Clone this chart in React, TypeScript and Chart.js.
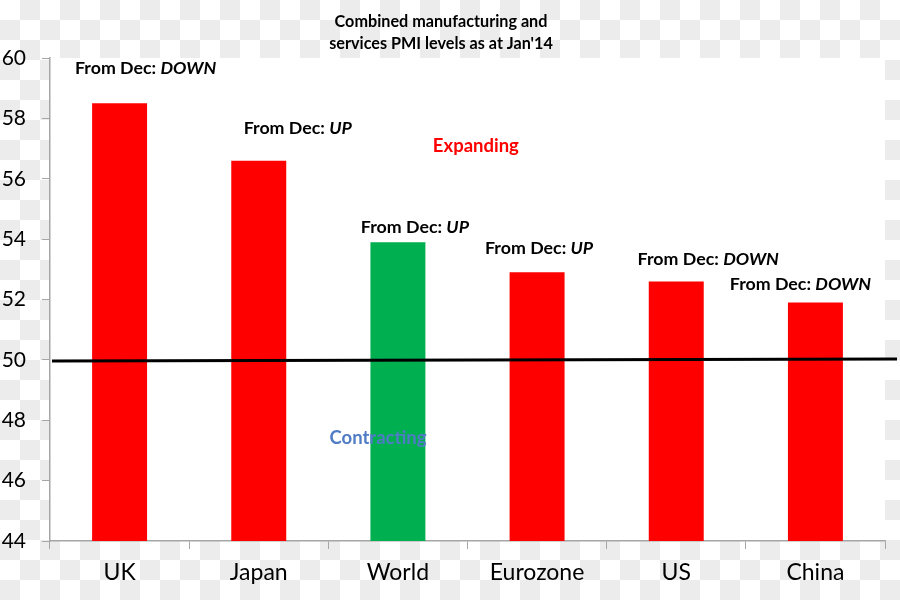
import React, { useEffect, useRef } from "react";
import { Chart, registerables } from "chart.js";

Chart.register(...registerables);

// ---- data ----
const categories = ["UK", "Japan", "World", "Eurozone", "US", "China"];
const pmiValues = [58.5, 56.6, 53.9, 52.9, 52.6, 51.9];
const barColors = ["#FF0000", "#FF0000", "#00B050", "#FF0000", "#FF0000", "#FF0000"];
const changeFromDec = ["DOWN", "UP", "UP", "UP", "DOWN", "DOWN"];
const thresholdValue = 50;
const yMin = 44;
const yMax = 60;
const yStep = 2;
const titleLines = ["Combined manufacturing and", "services PMI levels as at Jan'14"];
const zoneLabels = ["Expanding", "Contracting"];

// ---- layout of annotations (pixels relative to bar top centre) ----
const labelOffsets: [number, number][] = [
  [26, -35],
  [39, -32],
  [17, -15],
  [2, -24],
  [32, -22],
  [-15, -18],
];
// zone labels in data coordinates (category index, value)
const zonePositions: [number, number][] = [
  [2.56, 57.1],
  [1.857, 47.4],
];
const zoneColors = ["#FF0000", "#4F7CC4"];

const FONT = "Lato, 'Open Sans', sans-serif";
const GRAY = "#A6A6A6";

const backgroundPlugin = {
  id: "bgChecker",
  beforeDraw(chart: any) {
    const { ctx, width, height, chartArea } = chart;
    ctx.save();
    ctx.fillStyle = "#FFFFFF";
    ctx.fillRect(0, 0, width, height);
    ctx.fillStyle = "#ECECEC";
    const s = 20;
    for (let j = 0; j * s < height; j++) {
      for (let i = 0; i * s < width; i++) {
        if ((i + j) % 2 === 1) ctx.fillRect(i * s, j * s, s, s);
      }
    }
    ctx.fillStyle = "#FFFFFF";
    ctx.fillRect(chartArea.left, chartArea.top, chartArea.right - chartArea.left, chartArea.bottom - chartArea.top);
    ctx.restore();
  },
};

const annotationPlugin = {
  id: "annotations",
  afterDatasetsDraw(chart: any) {
    const { ctx, chartArea, width } = chart;
    const xs = chart.scales.x;
    const ys = chart.scales.y;
    ctx.save();
    // threshold line
    const y50 = ys.getPixelForValue(thresholdValue);
    ctx.strokeStyle = "#000000";
    ctx.lineWidth = 3;
    ctx.beginPath();
    ctx.moveTo(chartArea.left + 2, y50 + 1);
    ctx.lineTo(width - 3, y50 - 1);
    ctx.stroke();

    // "From Dec:" labels
    const meta = chart.getDatasetMeta(0);
    ctx.textBaseline = "middle";
    ctx.fillStyle = "#000000";
    const fs = 17.8;
    meta.data.forEach((bar: any, i: number) => {
      const prefix = "From Dec: ";
      const dir = changeFromDec[i];
      ctx.font = `bold ${fs}px ${FONT}`;
      const w1 = ctx.measureText(prefix).width;
      ctx.font = `italic bold ${fs}px ${FONT}`;
      const w2 = ctx.measureText(dir).width;
      const cx = bar.x + labelOffsets[i][0];
      const cy = bar.y + labelOffsets[i][1];
      const x0 = cx - (w1 + w2) / 2;
      ctx.textAlign = "left";
      ctx.font = `bold ${fs}px ${FONT}`;
      ctx.fillText(prefix, x0, cy);
      ctx.font = `italic bold ${fs}px ${FONT}`;
      ctx.fillText(dir, x0 + w1, cy);
    });

    // zone labels
    ctx.textAlign = "center";
    ctx.font = `bold 18.5px ${FONT}`;
    zoneLabels.forEach((t, i) => {
      ctx.fillStyle = zoneColors[i];
      ctx.fillText(t, xs.getPixelForValue(zonePositions[i][0]), ys.getPixelForValue(zonePositions[i][1]));
    });

    // title
    ctx.fillStyle = "#000000";
    ctx.font = `bold 16.2px ${FONT}`;
    titleLines.forEach((t, i) => {
      ctx.fillText(t, 441, 22 + i * 22);
    });
    ctx.restore();
  },
};

export default function App() {
  const ref = useRef<HTMLCanvasElement | null>(null);
  useEffect(() => {
    if (!ref.current) return;
    const chart = new Chart(ref.current, {
      type: "bar",
      data: {
        labels: categories,
        datasets: [
          {
            data: pmiValues,
            backgroundColor: barColors,
            borderWidth: 0,
            barPercentage: 0.395,
            categoryPercentage: 1,
          },
        ],
      },
      options: {
        responsive: false,
        animation: false,
        events: [],
        layout: { padding: { top: 58, right: 15, left: 0, bottom: 0 } },
        plugins: {
          legend: { display: false },
          title: { display: false },
          tooltip: { enabled: false },
        },
        scales: {
          x: {
            afterFit: (s: any) => {
              s.height = 59;
            },
            grid: {
              offset: true,
              drawOnChartArea: false,
              drawTicks: true,
              tickLength: 8,
              color: GRAY,
              lineWidth: 1,
            },
            border: { display: true, color: GRAY, width: 1.5 },
            ticks: {
              color: "#000000",
              font: { family: FONT, size: 23 },
              padding: 10,
              maxRotation: 0,
            },
          },
          y: {
            min: yMin,
            max: yMax,
            afterFit: (s: any) => {
              s.width = 50;
            },
            grid: {
              drawOnChartArea: false,
              drawTicks: true,
              tickLength: 8,
              color: GRAY,
              lineWidth: 1,
            },
            border: { display: true, color: GRAY, width: 1.5 },
            ticks: {
              stepSize: yStep,
              color: "#000000",
              font: { family: FONT, size: 21 },
              padding: 16,
            },
          },
        },
      },
      plugins: [backgroundPlugin, annotationPlugin],
    });
    return () => chart.destroy();
  }, []);
  return (
    <div style={{ position: "fixed", left: 0, top: 0, width: 900, height: 600 }}>
      <canvas ref={ref} width={900} height={600} style={{ display: "block" }} />
    </div>
  );
}
